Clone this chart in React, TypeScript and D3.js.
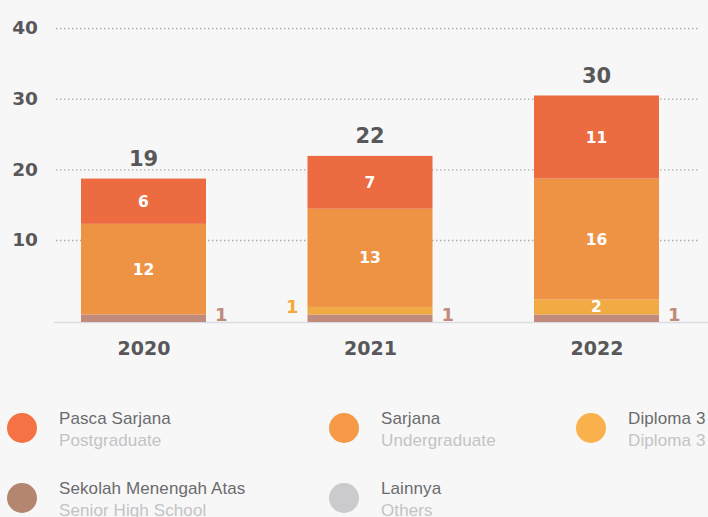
import React, { useEffect, useRef } from "react";
import * as d3 from "d3";

// categories & values
const years = ["2020", "2021", "2022"];
const pascaSarjana = [6, 7, 11];
const sarjana = [12, 13, 16];
const diploma3 = [0, 1, 2];
const sekolahMenengahAtas = [1, 1, 1];
const lainnya = [0, 0, 0];

const yTicks = [10, 20, 30, 40];

interface Series {
  key: string;
  label: string;
  labelEn: string;
  values: number[];
  barColor: string;
  dotColor: string;
  sideLabel?: "left" | "right";
}

const series: Series[] = [
  { key: "sma", label: "Sekolah Menengah Atas", labelEn: "Senior High School", values: sekolahMenengahAtas, barColor: "#c08b7b", dotColor: "#b5866f", sideLabel: "right" },
  { key: "d3", label: "Diploma 3", labelEn: "Diploma 3", values: diploma3, barColor: "#f2aa45", dotColor: "#f9b24b", sideLabel: "left" },
  { key: "s1", label: "Sarjana", labelEn: "Undergraduate", values: sarjana, barColor: "#ee9344", dotColor: "#f79a48" },
  { key: "s2", label: "Pasca Sarjana", labelEn: "Postgraduate", values: pascaSarjana, barColor: "#ec6b40", dotColor: "#f47245" },
  { key: "other", label: "Lainnya", labelEn: "Others", values: lainnya, barColor: "#cbcbcd", dotColor: "#cbcbcd" },
];

// order in the legend
const legendOrder = ["s2", "s1", "d3", "sma", "other"];

const W = 708;
const H = 517;
const BOLD = "'DejaVu Sans', sans-serif";
const LIGHT = "'Liberation Sans', Arial, sans-serif";
const DARK = "#58585a";

export default function App() {
  const svgRef = useRef<SVGSVGElement>(null);

  useEffect(() => {
    if (!svgRef.current) return;
    const svg = d3.select(svgRef.current);
    svg.selectAll("*").remove();

    svg.append("rect").attr("width", W).attr("height", H).attr("fill", "#f7f7f7");

    const rows = years.map((yr, i) => {
      const r: { [k: string]: any } = { year: yr };
      series.forEach((s) => (r[s.key] = s.values[i]));
      return r;
    });
    const stacked = d3.stack<any>().keys(series.map((s) => s.key))(rows);
    const totals = years.map((_, i) => d3.sum(series, (s) => s.values[i]));

    const x = d3.scalePoint<string>().domain(years).range([143.5, 596.5]);
    const barW = 125;
    const y = d3.scaleLinear().domain([0, 40]).range([322, 20]);
    // the dotted guide lines sit on their own scale in the original
    const gridY = d3.scaleLinear().domain([10, 40]).range([240, 28]);

    // grid
    const grid = svg
      .append("g")
      .attr("transform", "translate(56,0)")
      .call(d3.axisLeft(gridY).tickValues(yTicks).tickSize(-644).tickPadding(18));
    grid.select(".domain").remove();
    grid
      .selectAll(".tick line")
      .attr("stroke", "#a9a9a9")
      .attr("stroke-width", 1.4)
      .attr("stroke-dasharray", "1.4,2.6");
    grid
      .selectAll(".tick text")
      .attr("fill", DARK)
      .style("font-family", BOLD)
      .style("font-weight", "bold")
      .style("font-size", "18.5px");

    // baseline
    svg
      .append("line")
      .attr("x1", 54)
      .attr("x2", W)
      .attr("y1", y(0) + 0.5)
      .attr("y2", y(0) + 0.5)
      .attr("stroke", "#dcdce2")
      .attr("stroke-width", 1.5);

    // bars
    stacked.forEach((layer) => {
      const s = series.find((d) => d.key === layer.key)!;
      layer.forEach((seg, i) => {
        const v = seg[1] - seg[0];
        if (v <= 0) return;
        const cx = x(years[i])!;
        svg
          .append("rect")
          .attr("x", cx - barW / 2)
          .attr("width", barW)
          .attr("y", y(seg[1]))
          .attr("height", y(seg[0]) - y(seg[1]))
          .attr("fill", s.barColor);

        if (v >= 2 || !s.sideLabel) {
          svg
            .append("text")
            .attr("x", cx)
            .attr("y", (y(seg[0]) + y(seg[1])) / 2)
            .attr("dy", "0.36em")
            .attr("text-anchor", "middle")
            .attr("fill", "#ffffff")
            .style("font-family", BOLD)
            .style("font-weight", "bold")
            .style("font-size", "15.5px")
            .text(v);
        } else {
          const right = s.sideLabel === "right";
          svg
            .append("text")
            .attr("x", right ? cx + barW / 2 + 9 : cx - barW / 2 - 9)
            .attr("y", y(seg[0]) - 1)
            .attr("text-anchor", right ? "start" : "end")
            .attr("fill", right ? "#c08b7b" : "#f5a93a")
            .style("font-family", BOLD)
            .style("font-weight", "bold")
            .style("font-size", "18px")
            .text(v);
        }
      });
    });

    // totals
    years.forEach((yr, i) => {
      svg
        .append("text")
        .attr("x", x(yr)!)
        .attr("y", y(totals[i]) - 13)
        .attr("text-anchor", "middle")
        .attr("fill", DARK)
        .style("font-family", BOLD)
        .style("font-weight", "bold")
        .style("font-size", "21px")
        .text(totals[i]);
    });

    // year labels
    const xAxis = svg
      .append("g")
      .attr("transform", `translate(0,${y(0)})`)
      .call(d3.axisBottom(x).tickSize(0).tickPadding(20));
    xAxis.select(".domain").remove();
    xAxis
      .selectAll(".tick text")
      .attr("fill", DARK)
      .style("font-family", BOLD)
      .style("font-weight", "bold")
      .style("font-size", "19px");

    // legend
    const colX = [22, 344, 591];
    const rowY = [428, 498];
    legendOrder.forEach((k, i) => {
      const s = series.find((d) => d.key === k)!;
      const cx = colX[i % 3];
      const cy = rowY[Math.floor(i / 3)];
      const g = svg.append("g");
      g.append("circle").attr("cx", cx).attr("cy", cy).attr("r", 15).attr("fill", s.dotColor);
      g.append("text")
        .attr("x", cx + 37)
        .attr("y", cy - 4)
        .attr("fill", "#6b6b6d")
        .style("font-family", LIGHT)
        .style("font-size", "17px")
        .style("letter-spacing", "0.1px")
        .text(s.label);
      g.append("text")
        .attr("x", cx + 37)
        .attr("y", cy + 18)
        .attr("fill", "#c3c3c5")
        .style("font-family", LIGHT)
        .style("font-size", "17px")
        .style("letter-spacing", "0.1px")
        .text(s.labelEn);
    });
  }, []);

  return (
    <svg
      ref={svgRef}
      width={W}
      height={H}
      style={{ position: "absolute", left: 0, top: 0, display: "block" }}
    />
  );
}
